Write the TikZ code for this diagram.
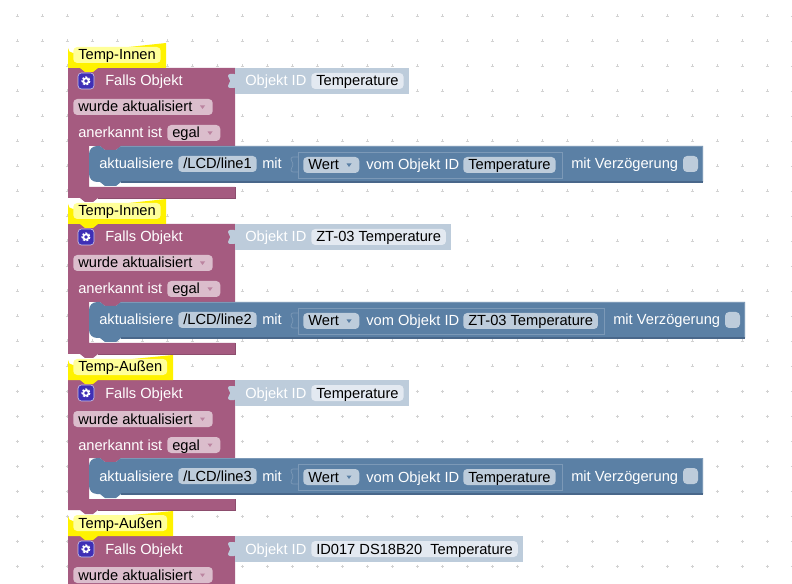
\documentclass[tikz,border=0pt]{standalone}
\usepackage{fontspec}
\setmainfont{Liberation Sans}
\definecolor{eventcol}{HTML}{A55B80}
\definecolor{actioncol}{HTML}{5B80A5}
\definecolor{actionedge}{HTML}{49678A}
\definecolor{actionlight}{HTML}{7C99B7}
\definecolor{idcol}{HTML}{BDCCDB}
\definecolor{idfield}{HTML}{E3E9F1}
\definecolor{pinkfield}{HTML}{DBBDCC}
\definecolor{tagfield}{HTML}{FFFF99}
\definecolor{gearcol}{HTML}{3F2FB5}
\definecolor{gridcol}{HTML}{D2D2D2}

\begin{document}
\begin{tikzpicture}[x=0.75pt, y=-0.75pt,
		labeltext/.style={anchor=west, inner sep=0pt, font=\fontsize{11}{12}\selectfont, text height=8.8pt, text depth=1.3pt},
		whitetext/.style={labeltext, text=white},
		fieldbox/.style={labeltext, inner xsep=3.75pt, inner ysep=0.95pt, rounded corners=3pt, text=black},
		pinkbox/.style={fieldbox, fill=pinkfield},
		bluebox/.style={fieldbox, fill=idcol},
		idbox/.style={fieldbox, fill=idfield},
		tagbox/.style={fieldbox, fill=tagfield},
		dropmark/.style={fill=#1, draw=none}
	]
	\useasboundingbox (0, 0) rectangle (792, 584);
	\clip (0, 0) rectangle (792, 584);
	\fill[white] (0, 0) rectangle (792, 584);

	% grid
	\foreach \gx in {17, 42, ..., 792} {
		\foreach \gy in {16, 41, ..., 584} {
			\draw[gridcol, line width=0.5pt] (\gx - 1.5, \gy) -- (\gx + 1.5, \gy) (\gx, \gy - 1.5) -- (\gx, \gy + 1.5);
		}
	}

	% event blocks, lowest first so that each bottom bump lies on the next tag
	\foreach \yy/\tagname/\tagend/\idname/\idend/\n in {
		468/Temp-Außen/173/{ID017 DS18B20\ \ Temperature}/523/d,
		312/Temp-Außen/173/{Temperature}/409/c,
		156/Temp-Innen/166/{ZT-03 Temperature}/451/b,
		0/Temp-Innen/166/{Temperature}/409/a} {
		\begin{scope}[yshift=-\yy*0.75pt]
			\fill[eventcol] (68, 68) -- (235, 68) -- (235, 146) -- (121, 146) -- (116, 150) -- (105, 150) -- (100, 146) -- (89, 146) -- (89, 187) -- (235, 187) -- (235, 198) -- (98, 198) -- (93, 202) -- (85, 202) -- (80, 198) -- (68, 198) -- cycle;
			\draw[eventcol!85!black, line width=0.5pt] (98, 198) -- (235, 198) -- (235, 187);
			\fill[idcol] (235, 68) -- (\idend, 68) -- (\idend, 94) -- (235, 94) -- cycle;
			\fill[idcol, rounded corners=1.5pt] (236, 74) -- (228, 74) -- (228, 78) -- (231, 81) -- (228, 84) -- (228, 88) -- (236, 88) -- cycle;
			\fill[yellow] (68, 48) arc[radius=5, start angle=180, end angle=90] -- (\tagend, 43) -- (\tagend, 68) -- (98, 68) -- (93, 72) -- (85, 72) -- (80, 68) -- (68, 68) -- cycle;

			\node[tagbox] (tag\n) at (73, 55) {\tagname};
			\fill[draw=white!70!gearcol, line width=0.5pt, fill=gearcol, rounded corners=2.5pt] (78, 73) rectangle (94, 89);
			\draw[white, line width=1.4pt, densely dotted] (86, 81) circle[radius=3.6];
			\draw[white, line width=1.2pt] (86, 81) circle[radius=2.6];
			\node[whitetext] (falls\n) at (105, 81) {Falls Objekt};
			\node[whitetext] (idlabel\n) at (245, 81) {Objekt ID};
			\node[idbox] (idname\n) at (311, 81) {\idname};
			\node[pinkbox] (state\n) at (73, 107) {wurde aktualisiert\rule{11.5pt}{0pt}};
			\fill[dropmark=eventcol!75] (200, 105.5) -- (205, 105.5) -- (202.5, 109) -- cycle;
			\node[whitetext] (ack\n) at (78, 133) {anerkannt ist};
			\node[pinkbox] (egal\n) at (167, 133) {egal\rule{11.5pt}{0pt}};
			\fill[dropmark=eventcol!75] (207.5, 131.5) -- (212.5, 131.5) -- (210, 135) -- cycle;
		\end{scope}
	}

	% action blocks
	\foreach \yy/\linename/\idname/\valend/\barend/\n in {
		0/line1/{Temperature}/562/703/a,
		156/line2/{ZT-03 Temperature}/604/745/b,
		312/line3/{Temperature}/562/703/c} {
		\begin{scope}[yshift=-\yy*0.75pt]
			\fill[actioncol] (100, 146) -- (105, 150) -- (116, 150) -- (121, 146) -- (\barend, 146) -- (\barend, 182) -- (121, 182) -- (116, 186) -- (105, 186) -- (100, 182) -- (97, 182) arc[radius=8, start angle=90, end angle=180] -- (89, 154) arc[radius=8, start angle=180, end angle=270] -- cycle;
			\draw[actionlight, line width=0.5pt] (121, 146.3) -- (\barend - 0.3, 146.3) -- (\barend - 0.3, 182);
			\draw[actionedge, line width=0.8pt] (121, 182) -- (\barend, 182);
			\node[whitetext] (update\n) at (99, 164) {aktualisiere};
			\node[bluebox] (path\n) at (178, 164) {/LCD/\linename};
			\node[whitetext] (with\n) at (262, 164) {mit};
			\draw[actionlight, fill=actioncol, line width=0.5pt, rounded corners=1.5pt] (298, 157) -- (291, 157) -- (291, 161) -- (294, 164.5) -- (291, 168) -- (291, 172) -- (298, 172);
			\draw[actionlight, line width=0.6pt] (298, 152) rectangle (\valend, 178);
			\node[bluebox] (value\n) at (303, 165) {Wert\rule{11.5pt}{0pt}};
			\fill[dropmark=actioncol] (346.5, 163.5) -- (351.5, 163.5) -- (349, 167) -- cycle;
			\node[whitetext] (from\n) at (366, 165) {vom Objekt ID};
			\node[bluebox] (source\n) at (463, 165) {\idname};
			\node[whitetext] (delay\n) at (\valend + 9, 164) {mit Verzögerung};
			\fill[idcol, rounded corners=3pt] (\barend - 20, 156) rectangle (\barend - 5, 172);
		\end{scope}
	}
\end{tikzpicture}
\end{document}
